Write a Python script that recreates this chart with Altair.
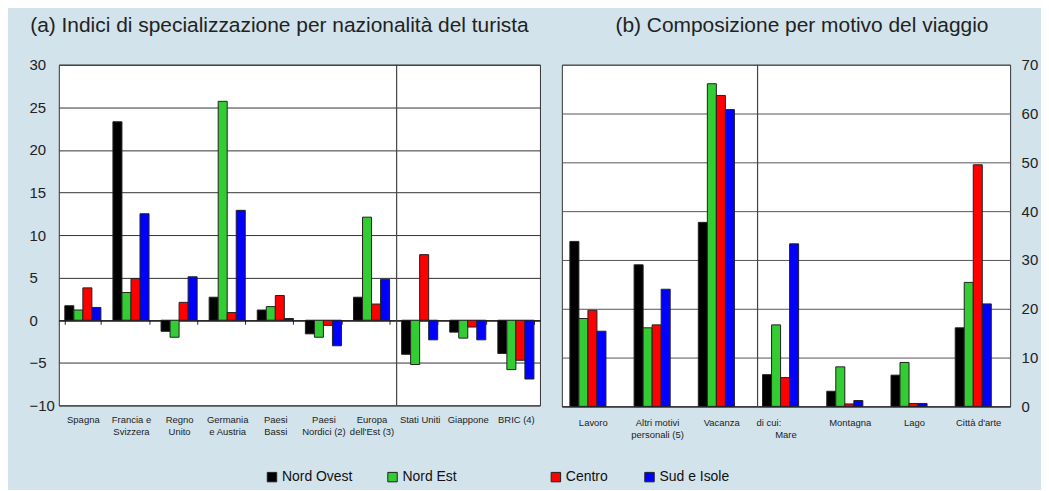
import altair as alt
import pandas as pd

FONT = "Liberation Sans"

regions = ["Nord Ovest", "Nord Est", "Centro", "Sud e Isole"]
region_colors = ["#000000", "#33CC33", "#FF0000", "#0000FF"]
# legend entry positions (left edge of symbol, relative to the legend row)
legend_x = [207, 328, 492, 586]
legend_y = 8

# Panel (a)
nations = ["Spagna", "Francia e|Svizzera", "Regno|Unito", "Germania|e Austria",
           "Paesi|Bassi", "Paesi|Nordici (2)", "Europa|dell'Est (3)",
           "Stati Uniti", "Giappone", "BRIC (4)"]
nord_ovest_a = [1.7, 23.3, -1.3, 2.7, 1.2, -1.6, 2.7, -4.0, -1.4, -3.9]
nord_est_a = [1.2, 3.25, -2.0, 25.7, 1.6, -2.0, 12.1, -5.2, -2.1, -5.8]
centro_a = [3.8, 4.9, 2.1, 0.9, 2.9, -0.6, 1.9, 7.7, -0.8, -4.7]
sud_isole_a = [1.5, 12.5, 5.1, 12.9, 0.2, -3.0, 4.8, -2.3, -2.3, -6.9]
separator_a = ["Stati Uniti"]
ticks_a = [-10, -5, 0, 5, 10, 15, 20, 25, 30]

# Panel (b)
motives = ["Lavoro", "Altri motivi|personali (5)", "Vacanza", "di cui:|Mare",
           "Montagna", "Lago", "Città d'arte"]
nord_ovest_b = [33.8, 29.0, 37.7, 6.5, 3.1, 6.4, 16.1]
nord_est_b = [18.0, 16.1, 66.1, 16.7, 8.1, 9.0, 25.4]
centro_b = [19.7, 16.7, 63.7, 5.9, 0.5, 0.6, 49.5]
sud_isole_b = [15.4, 24.0, 60.8, 33.3, 1.2, 0.6, 21.0]
separator_b = ["di cui:|Mare"]
ticks_b = [0, 10, 20, 30, 40, 50, 60, 70]

title_a = "(a) Indici di specializzazione per nazionalità del turista"
title_b = "(b) Composizione per motivo del viaggio"


def long_df(cats, series):
    rows = []
    for reg, vals in zip(regions, series):
        for c, v in zip(cats, vals):
            rows.append({"cat": c, "region": reg, "value": v})
    return pd.DataFrame(rows)


df_a = long_df(nations, [nord_ovest_a, nord_est_a, centro_a, sud_isole_a])
df_b = long_df(motives, [nord_ovest_b, nord_est_b, centro_b, sud_isole_b])

TITLE_SIZE = 21
AX_SIZE = 15
NB = "\u00a0"
ZW = "\u200b"

color_all = alt.Color("region:N", scale=alt.Scale(domain=regions, range=region_colors),
                      legend=None)


def panel(df, cats, xscale, xaxis, yenc, sep):
    bars = alt.Chart(df).mark_bar(stroke="#222", strokeWidth=1).encode(
        x=alt.X("cat:N", sort=cats, scale=xscale, axis=xaxis),
        xOffset=alt.XOffset("region:N", sort=regions),
        y=yenc,
        color=color_all,
    )
    rule = alt.Chart(pd.DataFrame({"cat": sep})).mark_rule(
        color="#444", strokeWidth=1.2, xOffset=-5
    ).encode(x=alt.X("cat:N", sort=cats, scale=xscale, axis=xaxis, bandPosition=0))
    return alt.layer(bars, rule)


# ---------- panel (a)
H_A = 342
W_A = 483
xaxis_a = alt.Axis(
    title=None, orient="bottom", offset=-H_A * 10 / 40,
    labelExpr="split(datum.label, '|')", labelAngle=0, labelFontSize=9.5,
    labelLineHeight=12, labelPadding=91, labelBaseline="top",
    tickBand="extent", tickSize=4, tickColor="#222", domainColor="#000",
    domainWidth=1, labelColor="#222", labelFont=FONT,
)
xscale_a = alt.Scale(paddingInner=0.25, paddingOuter=0.125)
y_a = alt.Y("value:Q", scale=alt.Scale(domain=[-10, 30], nice=False),
            axis=alt.Axis(title=None, values=ticks_a, grid=True, gridColor="#333",
                          gridWidth=1, ticks=False, domain=False, labelAlign="left",
                          labelPadding=30, minExtent=50, maxExtent=50,
                          labelFontSize=AX_SIZE, labelColor="#222", labelFont=FONT))

left = panel(df_a, nations, xscale_a, xaxis_a, y_a, separator_a).properties(
    width=W_A, height=H_A,
    title=alt.Title(title_a, fontSize=TITLE_SIZE, font=FONT, color="#222",
                    fontWeight="normal", anchor="middle", dx=-20, offset=5,
                    baseline="alphabetic"),
)

# ---------- panel (b)
H_B = 343
W_B = 450
xaxis_b = alt.Axis(
    title=None, orient="bottom",
    labelExpr="split(replace(datum.label, 'di cui:', 'di cui:" + NB * 13 + ZW + "'), '|')",
    labelAngle=0, labelFontSize=9.5, labelLineHeight=12, labelPadding=11,
    labelBaseline="top", ticks=False, domainColor="#222", domainWidth=1,
    labelColor="#222", labelFont=FONT,
)
xscale_b = alt.Scale(paddingInner=0.27, paddingOuter=0.125)
y_b = alt.Y("value:Q", scale=alt.Scale(domain=[0, 70], nice=False),
            axis=alt.Axis(title=None, orient="right", values=ticks_b, grid=True,
                          gridColor="#555", gridWidth=1, ticks=False, domain=False,
                          labelPadding=11, labelFontSize=AX_SIZE, labelColor="#222",
                          labelFont=FONT))

right = panel(df_b, motives, xscale_b, xaxis_b, y_b, separator_b).properties(
    width=W_B, height=H_B,
    title=alt.Title(title_b, fontSize=TITLE_SIZE, font=FONT, color="#222",
                    fontWeight="normal", anchor="middle", dx=16, offset=5,
                    baseline="alphabetic"),
)

# ---------- legend row: one legend per region so each can sit where the reference has it
legend_df = pd.DataFrame({"region": regions})
legend_layers = []
for i, reg in enumerate(regions):
    legend_layers.append(
        alt.Chart(legend_df)
        .transform_filter(alt.datum.region == reg)
        .mark_square(opacity=0)
        .encode(
            color=alt.Color(
                "region:N",
                scale=alt.Scale(domain=[reg], range=[region_colors[i]]),
                legend=alt.Legend(
                    title=None, orient="none", legendX=legend_x[i], legendY=legend_y,
                    symbolType="square", symbolSize=90, symbolStrokeColor="#222",
                    symbolStrokeWidth=1, symbolOpacity=1, labelFontSize=14,
                    labelFont=FONT, labelColor="#111", labelOffset=3,
                    labelLimit=300, padding=0,
                ),
            )
        )
    )
legend_row = alt.layer(*legend_layers).resolve_scale(color="independent").properties(
    width=W_A, height=1,
    view=alt.ViewBackground(fill="transparent", stroke="transparent"),
)

top_row = alt.hconcat(left, right, spacing=20)

chart = alt.vconcat(top_row, legend_row, spacing=20).resolve_scale(
    color="independent"
).properties(
    background="#D2E3EC",
    padding={"left": 0, "top": 5, "right": 2, "bottom": 4},
).configure_view(stroke="#333", strokeWidth=1, fill="white")

chart.save("out.html", embed_options={"renderer": "svg", "actions": False})
